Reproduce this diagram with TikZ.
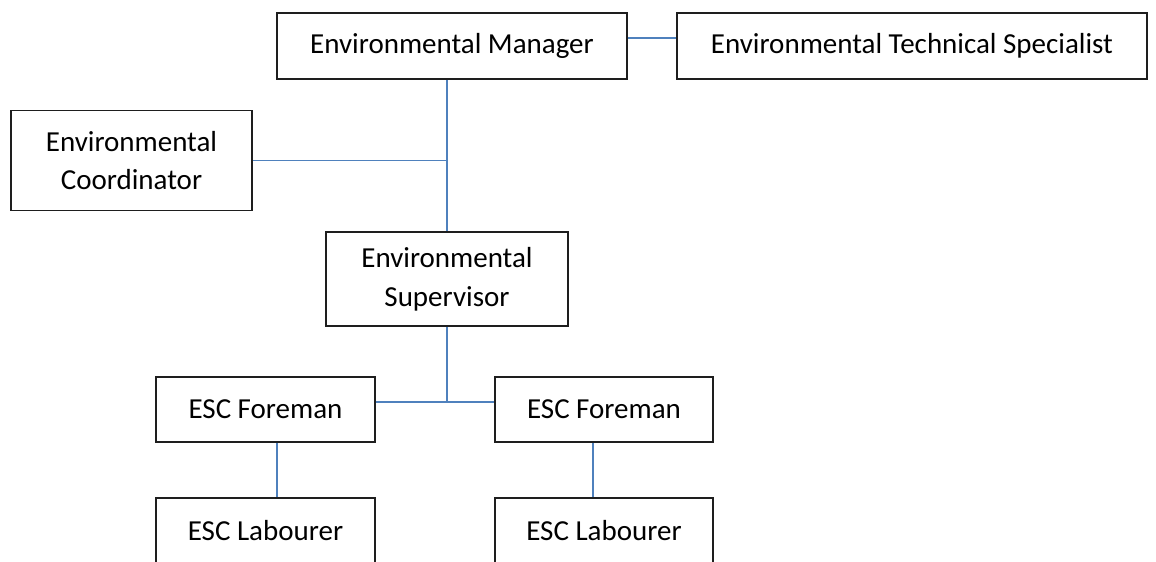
\documentclass[tikz,border=0pt]{standalone}
\usepackage{fontspec}
\setmainfont{Carlito}
\usepackage{tikz}
\usetikzlibrary{positioning, calc}
\definecolor{connblue}{RGB}{79,129,189}
\definecolor{boxline}{RGB}{30,30,30}

\begin{document}
\begin{tikzpicture}[every node/.style={font=\fontsize{16.5}{22}\selectfont}]
    \tikzset{role/.style={rectangle, draw=boxline, line width=0.03cm, fill=white,
                          align=center, inner sep=0pt},
             conn/.style={draw=connblue, line width=0.03cm}}
    \useasboundingbox (0,0) rectangle (23.12,-11.22);
    \clip (0,0) rectangle (23.12,-11.22);
    \node[role, minimum width=7.0cm, minimum height=1.32cm] (mgr) at (9.04,-0.92) {Environmental Manager};
    \node[role, minimum width=9.4cm, minimum height=1.32cm] (tech) at (18.24,-0.92) {Environmental Technical Specialist};
    \node[role, minimum width=4.82cm, minimum height=2.0cm] (coord) at (2.63,-3.21) {Environmental\\Coordinator};
    \node[role, minimum width=4.84cm, minimum height=1.88cm] (sup) at (8.94,-5.58) {Environmental\\Supervisor};
    \node[role, minimum width=4.38cm, minimum height=1.3cm] (forL) at (5.31,-8.19) {ESC Foreman};
    \node[role, minimum width=4.36cm, minimum height=1.3cm] (forR) at (12.08,-8.19) {ESC Foreman};
    \node[role, minimum width=4.38cm, minimum height=1.3cm] (labL) at (5.31,-10.61) {ESC Labourer};
    \node[role, minimum width=4.36cm, minimum height=1.3cm] (labR) at (12.08,-10.61) {ESC Labourer};
    % links
    \draw[conn] ([yshift=0.16cm]mgr.east) -- ([yshift=0.16cm]tech.west);
    \draw[conn] (mgr.south -| sup.north) -- (sup.north);
    \draw[conn] (coord.east) -- (coord.east -| sup.north);
    \path ([yshift=0.15cm]forL.east) coordinate (fl) ([yshift=0.15cm]forR.west) coordinate (fr);
    \draw[conn] (fl) -- (fr);
    \draw[conn] (sup.south) -- (sup.south |- fl);
    \foreach \a/\b/\s in {forL/labL/0.23, forR/labR/-0.22}
      \draw[conn] ([xshift=\s cm]\a.south) -- ([xshift=\s cm]\b.north);
\end{tikzpicture}
\end{document}
